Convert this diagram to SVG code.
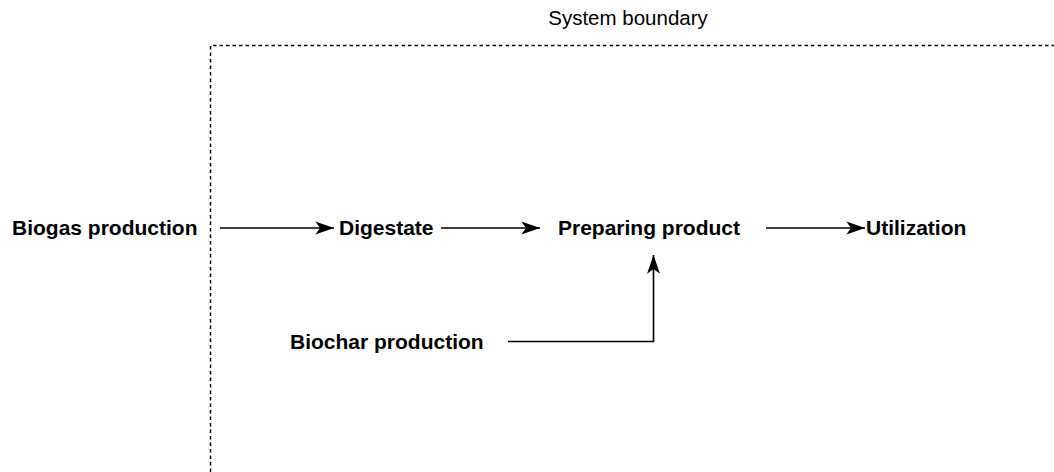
<svg xmlns="http://www.w3.org/2000/svg" width="1054" height="472" viewBox="0 0 1054 472">
<style>
.lbl{font-family:"Liberation Sans",Arial,sans-serif;font-weight:bold;font-size:21px;fill:#000}
.title{font-family:"Liberation Sans",Arial,sans-serif;font-size:20.5px;fill:#000}
.edge{fill:none;stroke:#000;stroke-width:1.6}
.bound{fill:none;stroke:#000;stroke-width:1.5;stroke-dasharray:3.5 3}
</style>
<defs>
<marker id="arr" markerUnits="userSpaceOnUse" markerWidth="20" markerHeight="14" viewBox="0 0 16 12" refX="16" refY="6" orient="auto">
<path d="M0,0.5 L16,6 L0,11.5 L4,6 Z" fill="#000"/>
</marker>
</defs>
<rect width="1054" height="472" fill="#fff"/>
<g id="boundary">
<path class="bound" d="M210.5,472 L210.5,45.5 L1054,45.5"/>
<text class="title" x="628" y="25" text-anchor="middle">System boundary</text>
</g>
<g id="biogas"><text class="lbl" x="12" y="235">Biogas production</text></g>
<g id="digestate"><text class="lbl" x="339" y="235">Digestate</text></g>
<g id="preparing"><text class="lbl" x="649" y="235" text-anchor="middle">Preparing product</text></g>
<g id="utilization"><text class="lbl" x="866" y="235">Utilization</text></g>
<g id="biochar"><text class="lbl" x="290" y="349">Biochar production</text></g>
<g id="connectors">
<path class="edge" d="M220,228 L334,228" marker-end="url(#arr)"/>
<path class="edge" d="M441,228 L540,228" marker-end="url(#arr)"/>
<path class="edge" d="M766,228 L865,228" marker-end="url(#arr)"/>
<path class="edge" d="M508,341.5 L653.5,341.5 L653.5,255" marker-end="url(#arr)"/>
</g>
</svg>
